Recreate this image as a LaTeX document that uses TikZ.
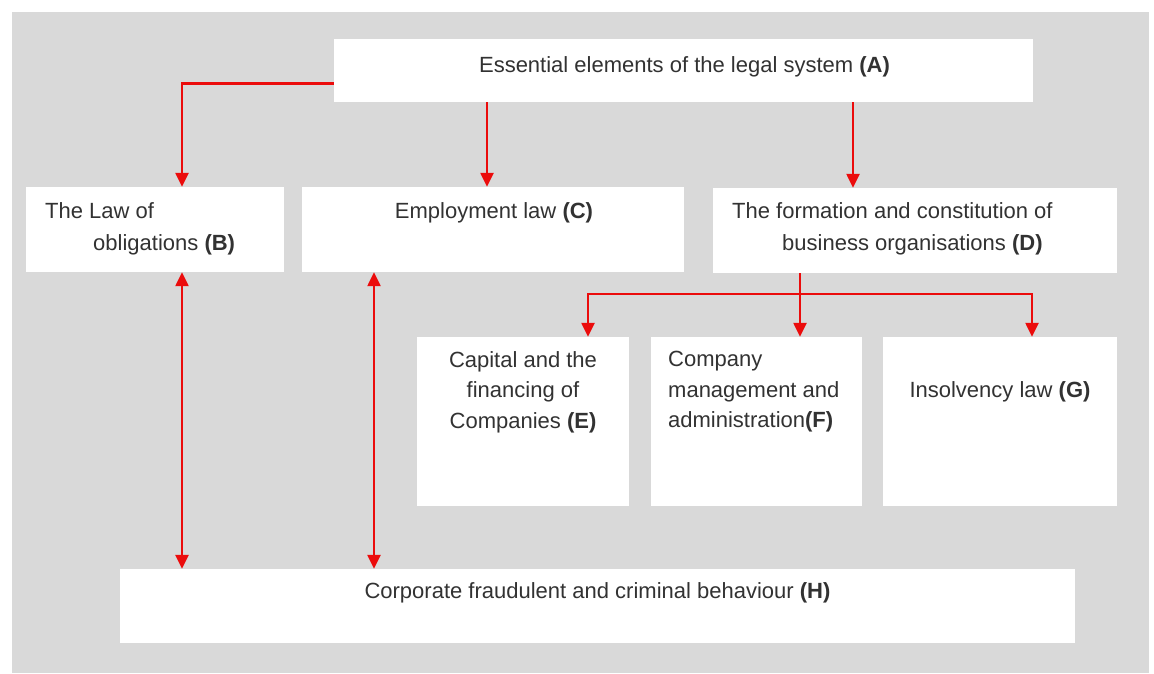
\documentclass[tikz,border=0pt]{standalone}
\usepackage{fontspec}
\setmainfont{Liberation Sans}
\usetikzlibrary{arrows.meta,calc}
\definecolor{bggray}{RGB}{217,217,217}
\definecolor{linered}{RGB}{235,12,12}
\definecolor{txtgray}{RGB}{50,50,50}
\begin{document}
\begin{tikzpicture}[x=1pt,y=-1pt,
  box/.style={fill=white,draw=none,inner sep=0pt,minimum width=#1},
  txt/.style={inner sep=0pt,text=txtgray,font=\fontsize{22}{31}\selectfont},
  conn/.style={draw=linered,line width=2.4pt},
  arr/.style={conn,-{Triangle[length=14pt,width=13pt]}},
  darr/.style={conn,{Triangle[length=14pt,width=13pt]}-{Triangle[length=14pt,width=13pt]}}]
\useasboundingbox (0,0) rectangle (1154,673);
\fill[bggray] (12,12) rectangle (1149,673);
% boxes
\node[box=699pt,minimum height=63pt] (A) at (683.5,70.5) {};
\node[box=258pt,minimum height=85pt] (B) at (155,229.5) {};
\node[box=382pt,minimum height=85pt] (C) at (493,229.5) {};
\node[box=404pt,minimum height=85pt] (D) at (915,230.5) {};
\node[box=212pt,minimum height=169pt] (E) at (523,421.5) {};
\node[box=211pt,minimum height=169pt] (F) at (756.5,421.5) {};
\node[box=234pt,minimum height=169pt] (G) at (1000,421.5) {};
\node[box=955pt,minimum height=74pt] (H) at (597.5,606) {};
% texts
\node[txt,anchor=base] (At) at (684.5,72) {Essential elements of the legal system \textbf{(A)}};
\node[txt,anchor=north west,align=left,font=\fontsize{22}{32}\selectfont] (Bt) at (45,202) {The Law of\\\hspace*{48pt}obligations \textbf{(B)}};
\node[txt,anchor=base] (Ct) at (494,218) {Employment law \textbf{(C)}};
\node[txt,anchor=north west,align=left,font=\fontsize{22}{32}\selectfont] (Dt) at (732,202) {The formation and constitution of\\\hspace*{50pt}business organisations \textbf{(D)}};
\node[txt,anchor=north,align=center,font=\fontsize{22}{30.5}\selectfont] (Et) at (523,351) {Capital and the\\financing of\\Companies \textbf{(E)}};
\node[txt,anchor=north west,align=left,font=\fontsize{22}{30.5}\selectfont] (Ft) at (668,351) {Company\\management and\\administration\textbf{(F)}};
\node[txt,anchor=base] (Gt) at (1000,397) {Insolvency law \textbf{(G)}};
\node[txt,anchor=base] (Ht) at (597.5,598) {Corporate fraudulent and criminal behaviour \textbf{(H)}};
% connectors
\draw[arr] ([yshift=-13pt]A.west) -| ([xshift=27pt]B.north);
\draw[arr] ([xshift=-6pt]C.north |- A.south) -- ([xshift=-6pt]C.north);
\draw[arr] ([xshift=-62pt]D.north |- A.south) -- ([xshift=-62pt]D.north);
\coordinate (j) at (800,294);
\draw[conn] ([xshift=-115pt]D.south) -- (j);
\draw[arr] (j) -| ([xshift=65pt]E.north);
\draw[arr] (j) -- (j |- F.north);
\draw[arr] (j) -| ([xshift=32pt]G.north);
\draw[darr] ([xshift=27pt]B.south) -- ([xshift=27pt]B.south |- H.north);
\draw[darr] ([xshift=-119pt]C.south) -- ([xshift=-119pt]C.south |- H.north);
\end{tikzpicture}
\end{document}
